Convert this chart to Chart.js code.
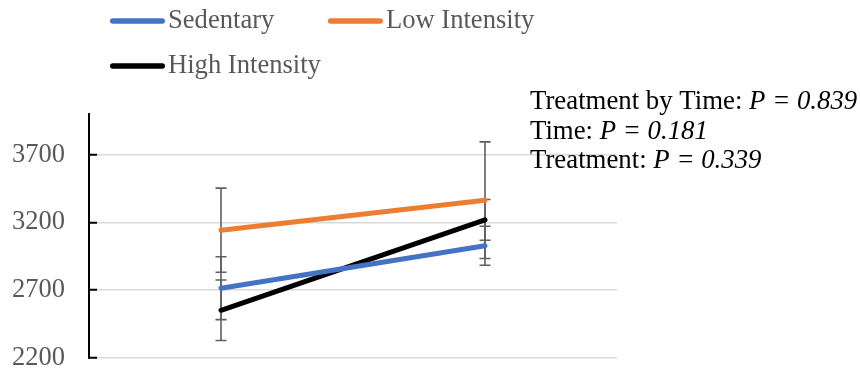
<!DOCTYPE html>
<html>
<head>
<meta charset="utf-8">
<script src="https://cdn.jsdelivr.net/npm/chart.js@4"></script>
<style>
  html, body { margin: 0; padding: 0; background: #fff; }
  canvas { display: block; }
</style>
</head>
<body>
<canvas id="chart" width="860" height="368"></canvas>
<script>
// Time points (not labelled on the axis)
const timePoints = ['Pre', 'Post'];

// Group means
const sedentary = [2715, 3028];
const lowIntensity = [3143, 3364];
const highIntensity = [2552, 3219];

// Error bar half-lengths
const sedentaryErr = [232, 144];
const lowIntensityErr = [310, 430];
const highIntensityErr = [223, 150];

// Y axis range and tick labels
const yMin = 2200;
const yMax = 4000;
const yTicks = [2200, 2700, 3200, 3700];

// Statistics printed beside the plot
const statLabels = ['Treatment by Time', 'Time', 'Treatment'];
const statValues = ['0.839', '0.181', '0.339'];

const SERIF = '"Liberation Serif", "Times New Roman", serif';

// Vertical error bars with caps, drawn beneath the lines
const errorBars = {
  id: 'errorBars',
  beforeDatasetsDraw(chart, args, opts) {
    const { ctx, scales: { x, y } } = chart;
    ctx.save();
    ctx.strokeStyle = opts.color;
    ctx.lineWidth = opts.width;
    chart.data.datasets.forEach(ds => {
      ds.data.forEach((v, i) => {
        const e = ds.errors[i];
        const px = x.getPixelForValue(i);
        const top = y.getPixelForValue(v + e);
        const bot = y.getPixelForValue(v - e);
        ctx.beginPath();
        ctx.moveTo(px, top); ctx.lineTo(px, bot);
        ctx.moveTo(px - opts.cap, top); ctx.lineTo(px + opts.cap, top);
        ctx.moveTo(px - opts.cap, bot); ctx.lineTo(px + opts.cap, bot);
        ctx.stroke();
      });
    });
    ctx.restore();
  }
};

// Line-swatch legend laid out in equal-width columns
const lineLegend = {
  id: 'lineLegend',
  afterDraw(chart, args, opts) {
    const ctx = chart.ctx;
    ctx.save();
    ctx.font = opts.size + 'px ' + SERIF;
    const items = chart.data.datasets;
    const widths = items.map(d => opts.swatch + opts.gap + ctx.measureText(d.label).width);
    const colW = Math.max(...widths) + opts.colGap;
    items.forEach((d, i) => {
      const col = i % opts.perRow;
      const row = Math.floor(i / opts.perRow);
      const x0 = opts.left + col * colW;
      const yc = opts.top + row * opts.rowHeight;
      ctx.strokeStyle = d.borderColor;
      ctx.lineWidth = opts.lineWidth;
      ctx.lineCap = 'round';
      ctx.beginPath();
      ctx.moveTo(x0 + opts.lineWidth / 2, yc);
      ctx.lineTo(x0 + opts.swatch - opts.lineWidth / 2, yc);
      ctx.stroke();
      ctx.fillStyle = opts.color;
      ctx.textAlign = 'left';
      ctx.textBaseline = 'middle';
      ctx.fillText(d.label, x0 + opts.swatch + opts.gap, yc);
    });
    ctx.restore();
  }
};

// P-value notes, with the statistic set in italics
const statNotes = {
  id: 'statNotes',
  afterDraw(chart, args, opts) {
    const ctx = chart.ctx;
    ctx.save();
    ctx.fillStyle = opts.color;
    ctx.textAlign = 'left';
    ctx.textBaseline = 'alphabetic';
    statLabels.forEach((label, i) => {
      const yb = opts.top + i * opts.lineHeight;
      let xc = opts.left;
      ctx.font = opts.size + 'px ' + SERIF;
      const head = label + ': ';
      ctx.fillText(head, xc, yb);
      xc += ctx.measureText(head).width;
      ctx.font = 'italic ' + opts.size + 'px ' + SERIF;
      ctx.fillText('P = ' + statValues[i], xc, yb);
    });
    ctx.restore();
  }
};

const lineStyle = { borderWidth: 5, borderCapStyle: 'round', pointRadius: 0, tension: 0, fill: false };

new Chart(document.getElementById('chart'), {
  type: 'line',
  data: {
    labels: timePoints,
    datasets: [
      { label: 'Sedentary', data: sedentary, errors: sedentaryErr, borderColor: '#4472C4', ...lineStyle },
      { label: 'Low Intensity', data: lowIntensity, errors: lowIntensityErr, borderColor: '#ED7D31', ...lineStyle },
      { label: 'High Intensity', data: highIntensity, errors: highIntensityErr, borderColor: '#000000', ...lineStyle }
    ]
  },
  options: {
    responsive: false,
    animation: false,
    layout: { padding: { top: 114, bottom: 10, left: 0, right: 243 } },
    scales: {
      x: { type: 'category', offset: true, display: false },
      y: {
        min: yMin,
        max: yMax,
        afterBuildTicks: s => { s.ticks = yTicks.map(v => ({ value: v })); },
        afterFit: s => { s.width = 89; s.paddingTop = 0; s.paddingBottom = 0; },
        border: { display: true, color: '#000', width: 2 },
        grid: { color: '#d9d9d9', lineWidth: 1.5, drawTicks: true, tickLength: -8, tickColor: '#000', tickWidth: 2 },
        ticks: {
          padding: 32,
          color: '#595959',
          font: { family: SERIF, size: 26.5 },
          callback: v => String(v)
        }
      }
    },
    plugins: {
      legend: { display: false },
      tooltip: { enabled: false },
      errorBars: { color: '#5f5f5f', width: 1.6, cap: 5.5 },
      lineLegend: { left: 110, top: 21, rowHeight: 45, perRow: 2, swatch: 55, gap: 3, colGap: 7, lineWidth: 5.5, size: 26.6, color: '#595959' },
      statNotes: { left: 530, top: 109, lineHeight: 29.5, size: 26.8, color: '#000' }
    }
  },
  plugins: [errorBars, lineLegend, statNotes]
});
</script>
</body>
</html>
